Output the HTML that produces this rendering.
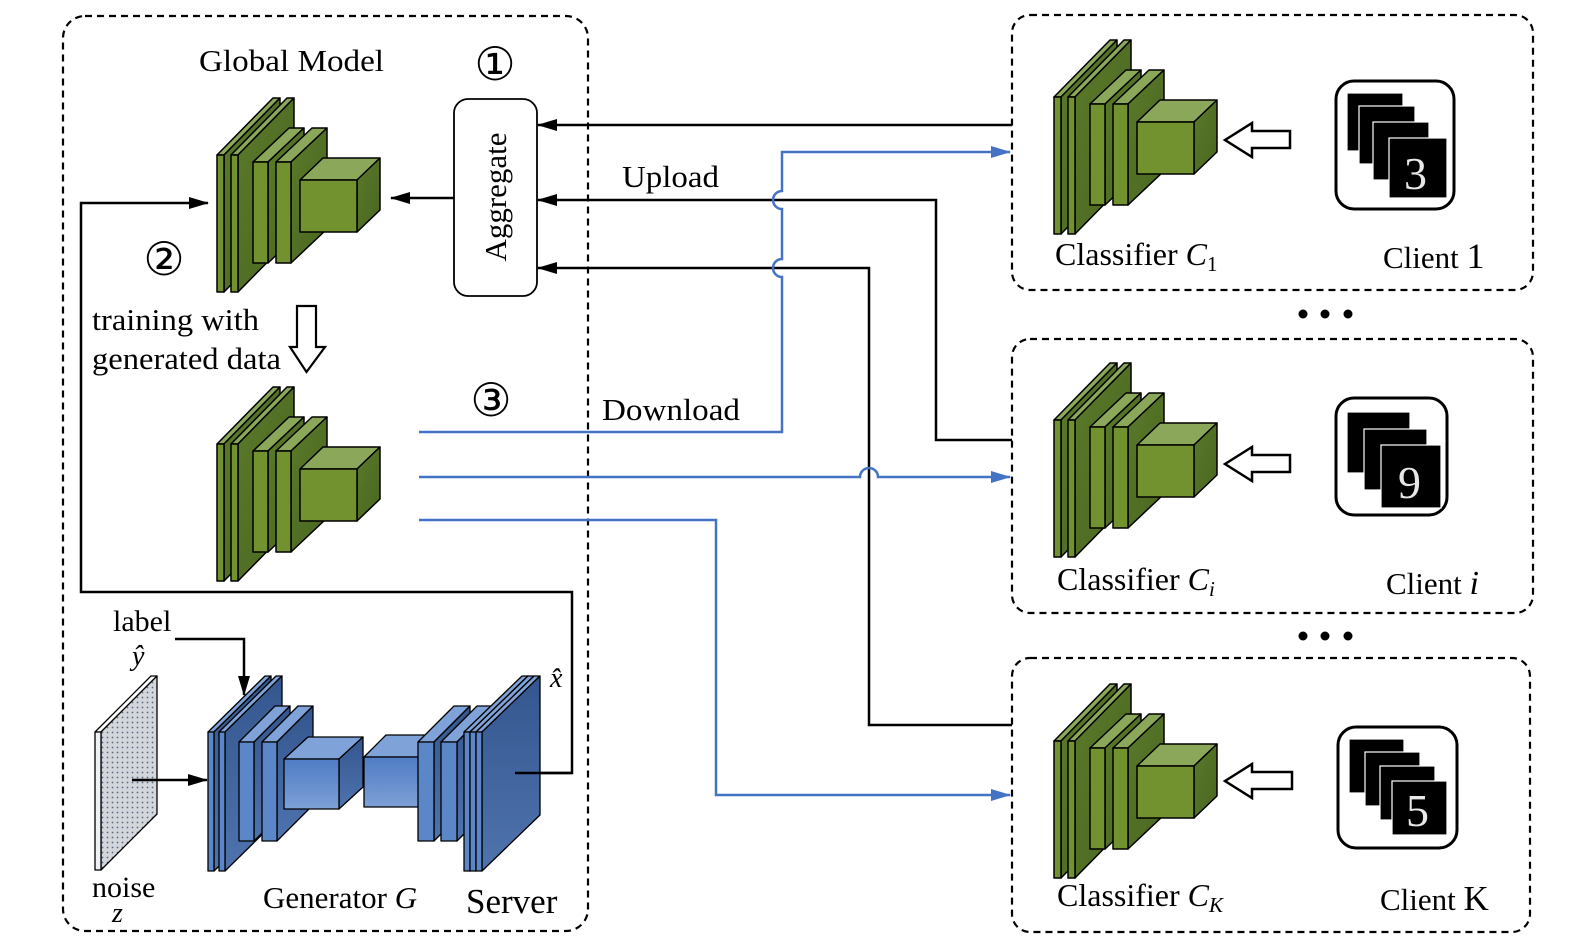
<!DOCTYPE html>
<html><head><meta charset="utf-8"><style>
html,body{margin:0;padding:0;background:#fff;}
svg{display:block;}
text{font-family:"Liberation Serif",serif;fill:#000;}
</style></head><body>
<svg width="1585" height="949" viewBox="0 0 1585 949" xmlns="http://www.w3.org/2000/svg">
<defs>
<linearGradient id="gs" x1="0" y1="0" x2="1" y2="1"><stop offset="0" stop-color="#5a7a2a"/><stop offset="1" stop-color="#4a6620"/></linearGradient>
<linearGradient id="bs" x1="0" y1="0" x2="0" y2="1"><stop offset="0" stop-color="#34568f"/><stop offset="1" stop-color="#4f73ad"/></linearGradient>
<linearGradient id="bf" x1="0" y1="0" x2="0" y2="1"><stop offset="0" stop-color="#4f7cc4"/><stop offset="1" stop-color="#7da0d6"/></linearGradient>
<pattern id="dots" width="5" height="5" patternUnits="userSpaceOnUse"><rect width="5" height="5" fill="#d3d6da"/><circle cx="2.5" cy="2.5" r="0.9" fill="#5a6a80"/></pattern>
<marker id="al" markerWidth="20" markerHeight="12" refX="19" refY="6" orient="auto" markerUnits="userSpaceOnUse"><path d="M0,0 L20,6 L0,12 Z" fill="#000"/></marker>
<marker id="abl" markerWidth="20" markerHeight="12" refX="19" refY="6" orient="auto" markerUnits="userSpaceOnUse"><path d="M0,0 L20,6 L0,12 Z" fill="#4472c4"/></marker>
<g id="cnn" stroke="#000" stroke-width="1.5" stroke-linejoin="round">
 <path d="M217,155 L273,98 L280,98 L224,155 Z" fill="#8aa75a"/>
 <path d="M224,155 L280,98 L280,235 L224,292 Z" fill="url(#gs)"/>
 <rect x="217" y="155" width="7" height="137" fill="#72922f"/>
 <path d="M231,155 L287,98 L294,98 L238,155 Z" fill="#8aa75a"/>
 <path d="M238,155 L294,98 L294,235 L238,292 Z" fill="url(#gs)"/>
 <rect x="231" y="155" width="7" height="137" fill="#72922f"/>
 <path d="M253,162 L289,128 L304,128 L268,162 Z" fill="#8aa75a"/>
 <path d="M268,162 L304,128 L304,229 L268,263 Z" fill="url(#gs)"/>
 <rect x="253" y="162" width="15" height="101" fill="#72922f"/>
 <path d="M276,162 L312,128 L327,128 L291,162 Z" fill="#8aa75a"/>
 <path d="M291,162 L327,128 L327,229 L291,263 Z" fill="url(#gs)"/>
 <rect x="276" y="162" width="15" height="101" fill="#72922f"/>
 <path d="M300,180 L323,158 L380,158 L357,180 Z" fill="#8aa75a"/>
 <path d="M357,180 L380,158 L380,210 L357,232 Z" fill="url(#gs)"/>
 <rect x="300" y="180" width="57" height="52" fill="#72922f"/>
</g>
</defs>

<g fill="none" stroke="#000" stroke-width="2.2" stroke-dasharray="7,5">
<rect x="63" y="16" width="525" height="915" rx="22"/>
<rect x="1012" y="15" width="521" height="275" rx="18"/>
<rect x="1012" y="339" width="521" height="274" rx="18"/>
<rect x="1012" y="658" width="518" height="274" rx="18"/>
</g>

<use href="#cnn"/>
<use href="#cnn" transform="translate(0,289)"/>
<use href="#cnn" transform="translate(837,-58)"/>
<use href="#cnn" transform="translate(837,265)"/>
<use href="#cnn" transform="translate(837,586)"/>

<rect x="454" y="99" width="83" height="197" rx="14" fill="#fff" stroke="#000" stroke-width="1.8"/>
<text x="0" y="0" font-size="31" text-anchor="middle" transform="translate(506,197) rotate(-90)">Aggregate</text>
<line x1="454" y1="198" x2="391" y2="198" stroke="#000" stroke-width="2.5" marker-end="url(#al)"/>

<text x="199" y="71" font-size="31" textLength="185" lengthAdjust="spacingAndGlyphs">Global Model</text>
<text x="495" y="80" font-size="46" text-anchor="middle">①</text>
<text x="164" y="275" font-size="46" text-anchor="middle">②</text>
<text x="491" y="416" font-size="46" text-anchor="middle">③</text>
<text x="92" y="330" font-size="31" textLength="167" lengthAdjust="spacingAndGlyphs">training with</text>
<text x="92" y="369" font-size="31" textLength="189" lengthAdjust="spacingAndGlyphs">generated data</text>
<path d="M297,306 L316,306 L316,347 L325,347 L306.5,372 L290,347 L297,347 Z" fill="#fff" stroke="#000" stroke-width="2.2"/>

<g fill="none" stroke="#000" stroke-width="2.5">
<line x1="1012" y1="125" x2="538" y2="125" marker-end="url(#al)"/>
<path d="M1012,440 L936,440 L936,200 L538,200" marker-end="url(#al)"/>
<path d="M1012,725 L869,725 L869,268 L538,268" marker-end="url(#al)"/>
</g>
<text x="622" y="187" font-size="31" textLength="97" lengthAdjust="spacingAndGlyphs">Upload</text>
<text x="602" y="420" font-size="31" textLength="138" lengthAdjust="spacingAndGlyphs">Download</text>

<g fill="none" stroke="#4472c4" stroke-width="2.5">
<path d="M419,432 L782,432 L782,277 A9,9 0 0,1 782,259 L782,209 A9,9 0 0,1 782,191 L782,152 L1010,152" marker-end="url(#abl)"/>
<path d="M419,477 L860,477 A9,9 0 0,1 878,477 L1010,477" marker-end="url(#abl)"/>
<path d="M419,520 L716,520 L716,795 L1010,795" marker-end="url(#abl)"/>
</g>

<path d="M515,773 L572,773 L572,592 L81,592 L81,203 L208,203" fill="none" stroke="#000" stroke-width="2.5" marker-end="url(#al)"/>

<g stroke="#000" stroke-width="1.3" stroke-linejoin="round">
 <path d="M95,732 L151,676 L157,676 L101,732 Z" fill="#fff"/>
 <path d="M101,732 L157,676 L157,814 L101,870 Z" fill="url(#dots)"/>
 <rect x="95" y="732" width="6" height="138" fill="#eef0f4"/>
 <path d="M208,732 L265,676 L271,676 L214,732 Z" fill="#7fa3d8"/>
 <path d="M214,732 L271,676 L271,815 L214,871 Z" fill="url(#bs)"/>
 <rect x="208" y="732" width="6" height="139" fill="#5b86c8"/>
 <path d="M219,732 L276,676 L282,676 L225,732 Z" fill="#7fa3d8"/>
 <path d="M225,732 L282,676 L282,815 L225,871 Z" fill="url(#bs)"/>
 <rect x="219" y="732" width="6" height="139" fill="#5b86c8"/>
 <path d="M239,742 L275,706 L290,706 L254,742 Z" fill="#7fa3d8"/>
 <path d="M254,742 L290,706 L290,805 L254,841 Z" fill="url(#bs)"/>
 <rect x="239" y="742" width="15" height="99" fill="#5b86c8"/>
 <path d="M262,742 L298,706 L313,706 L277,742 Z" fill="#7fa3d8"/>
 <path d="M277,742 L313,706 L313,805 L277,841 Z" fill="url(#bs)"/>
 <rect x="262" y="742" width="15" height="99" fill="#5b86c8"/>
 <path d="M284,759 L308,737 L363,737 L339,759 Z" fill="#7fa3d8"/>
 <path d="M339,759 L363,737 L363,787 L339,809 Z" fill="url(#bs)"/>
 <rect x="284" y="759" width="55" height="50" fill="url(#bf)"/>
 <path d="M364,757 L386,735 L441,735 L419,757 Z" fill="#7fa3d8"/>
 <rect x="364" y="757" width="55" height="50" fill="url(#bf)"/>
 <path d="M418,742 L454,706 L470,706 L434,742 Z" fill="#7fa3d8"/>
 <path d="M434,742 L470,706 L470,805 L434,841 Z" fill="url(#bs)"/>
 <rect x="418" y="742" width="16" height="99" fill="#5b86c8"/>
 <path d="M441,742 L477,706 L493,706 L457,742 Z" fill="#7fa3d8"/>
 <path d="M457,742 L493,706 L493,805 L457,841 Z" fill="url(#bs)"/>
 <rect x="441" y="742" width="16" height="99" fill="#5b86c8"/>
 <path d="M464,732 L522,676 L528,676 L470,732 Z" fill="#7fa3d8"/>
 <path d="M470,732 L528,676 L528,815 L470,871 Z" fill="url(#bs)"/>
 <rect x="464" y="732" width="6" height="139" fill="#5b86c8"/>
 <path d="M470,732 L528,676 L534,676 L476,732 Z" fill="#7fa3d8"/>
 <path d="M476,732 L534,676 L534,815 L476,871 Z" fill="url(#bs)"/>
 <rect x="470" y="732" width="6" height="139" fill="#5b86c8"/>
 <path d="M476,732 L534,676 L540,676 L482,732 Z" fill="#7fa3d8"/>
 <path d="M482,732 L540,676 L540,815 L482,871 Z" fill="url(#bs)"/>
 <rect x="476" y="732" width="6" height="139" fill="#5b86c8"/>
</g>
<line x1="515" y1="773" x2="572" y2="773" stroke="#000" stroke-width="2.5"/>
<path d="M175,639 L244,639 L244,695" fill="none" stroke="#000" stroke-width="2.5" marker-end="url(#al)"/>
<line x1="132" y1="780" x2="207" y2="780" stroke="#000" stroke-width="2.5" marker-end="url(#al)"/>
<text x="113" y="631" font-size="30">label</text>
<text x="132" y="665" font-size="28" font-style="italic">ŷ</text>
<text x="550" y="687" font-size="28" font-style="italic">x̂</text>
<text x="92" y="897" font-size="30">noise</text>
<text x="112" y="922" font-size="28" font-style="italic">z</text>
<text x="263" y="908" font-size="31">Generator <tspan font-style="italic">G</tspan></text>
<text x="466" y="913" font-size="35">Server</text>

<text x="1055" y="265" font-size="32">Classifier <tspan font-style="italic">C</tspan><tspan font-size="21" dy="6">1</tspan></text>
<text x="1383" y="268" font-size="31">Client <tspan font-size="36">1</tspan></text>
<text x="1057" y="590" font-size="32">Classifier <tspan font-style="italic">C</tspan><tspan font-size="21" dy="6" font-style="italic">i</tspan></text>
<text x="1386" y="594" font-size="31">Client <tspan font-size="34" font-style="italic">i</tspan></text>
<text x="1057" y="906" font-size="32">Classifier <tspan font-style="italic">C</tspan><tspan font-size="21" dy="6" font-style="italic">K</tspan></text>
<text x="1380" y="910" font-size="31">Client <tspan font-size="35">K</tspan></text>

<g fill="#000">
<circle cx="1303" cy="314" r="4.5"/><circle cx="1325" cy="314" r="4.5"/><circle cx="1348" cy="314" r="4.5"/>
<circle cx="1303" cy="636" r="4.5"/><circle cx="1325" cy="636" r="4.5"/><circle cx="1348" cy="636" r="4.5"/>
</g>

<g fill="#fff" stroke="#000" stroke-width="2.5">
<path d="M1225,140 L1252,123 L1252,131 L1290,131 L1290,148 L1252,148 L1252,157 Z"/>
<path d="M1225,464 L1252,447 L1252,455 L1290,455 L1290,472 L1252,472 L1252,481 Z"/>
<path d="M1225,781 L1252,764 L1252,772 L1292,772 L1292,789 L1252,789 L1252,798 Z"/>
</g>

<g fill="#fff" stroke="#000" stroke-width="3">
<rect x="1336" y="81" width="118" height="128" rx="18"/>
<rect x="1336" y="398" width="111" height="117" rx="18"/>
<rect x="1338" y="727" width="119" height="121" rx="18"/>
</g>
<g fill="#000" stroke="#fff" stroke-width="1.2">
<rect x="1347" y="93" width="56" height="58"/>
<rect x="1359" y="106" width="56" height="58"/>
<rect x="1373" y="122" width="56" height="58"/>
<rect x="1389" y="138" width="58" height="60"/>
<rect x="1347" y="412" width="63" height="61"/>
<rect x="1364" y="429" width="63" height="61"/>
<rect x="1381" y="445" width="60" height="63"/>
<rect x="1349" y="739" width="55" height="54"/>
<rect x="1365" y="752" width="55" height="54"/>
<rect x="1380" y="766" width="55" height="54"/>
<rect x="1392" y="781" width="55" height="54"/>
</g>
<g font-size="46" font-family="Liberation Sans, sans-serif">
<text x="1404" y="189" style="fill:#e8e8e8">3</text>
<text x="1398" y="498" style="fill:#e8e8e8">9</text>
<text x="1406" y="826" style="fill:#e8e8e8">5</text>
</g>
</svg>
</body></html>
